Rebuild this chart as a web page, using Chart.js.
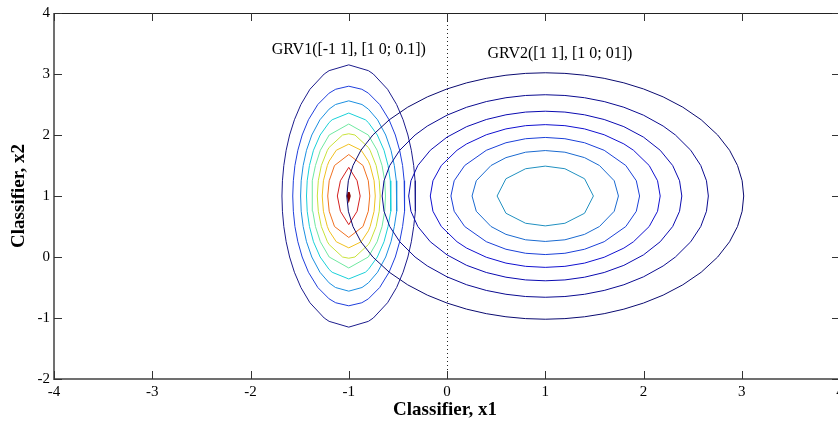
<!DOCTYPE html>
<html>
<head>
<meta charset="utf-8">
<script src="https://cdn.jsdelivr.net/npm/chart.js@4.4.1/dist/chart.umd.min.js"></script>
<style>
  html, body { margin: 0; padding: 0; background: #fff; overflow: hidden; }
  #wrap { width: 860px; height: 426px; }
</style>
</head>
<body>
<div id="wrap"><canvas id="contourChart" width="860" height="426"></canvas></div>
<script>
// Axis ranges and tick labels
const xTicks = [-4, -3, -2, -1, 0, 1, 2, 3, 4];
const yTicks = [-2, -1, 0, 1, 2, 3, 4];

// GRV1: centre and contour levels (narrow in x, tall in y)
const grv1Center = [-1, 1];
const grv1Levels = [0.05, 0.10, 0.15, 0.20, 0.25, 0.30, 0.35, 0.40, 0.45, 0.50];
const grv1Colors = ['#1c1c8c', '#1f3fdc', '#1a8fe0', '#19d0d8', '#6fe8a0',
                    '#c8e23a', '#f0c020', '#f07020', '#d42020', '#800000'];
// one quadrant of each contour, [dx, dy] from the top down to the side
const grv1Quads = [
    [[0, 2.15], [0.2, 2.055], [0.25, 2.0], [0.395, 1.75], [0.487, 1.5], [0.553, 1.25], [0.602, 1.0], [0.637, 0.75], [0.661, 0.5], [0.675, 0.25], [0.68, 0]],
    [[0, 1.8], [0.133, 1.75], [0.2, 1.686], [0.315, 1.5], [0.41, 1.25], [0.474, 1.0], [0.518, 0.75], [0.548, 0.5], [0.564, 0.25], [0.57, 0]],
    [[0, 1.56], [0.135, 1.5], [0.2, 1.424], [0.293, 1.25], [0.376, 1.0], [0.43, 0.75], [0.464, 0.5], [0.484, 0.25], [0.49, 0]],
    [[0, 1.36], [0.169, 1.25], [0.2, 1.204], [0.291, 1.0], [0.359, 0.75], [0.4, 0.5], [0.423, 0.25], [0.43, 0]],
    [[0, 1.18], [0.199, 1.0], [0.289, 0.75], [0.339, 0.5], [0.366, 0.25], [0.374, 0]],
    [[0, 1.02], [0.063, 1.0], [0.2, 0.796], [0.217, 0.75], [0.279, 0.5], [0.31, 0.25], [0.32, 0]],
    [[0, 0.85], [0.127, 0.75], [0.2, 0.571], [0.218, 0.5], [0.258, 0.25], [0.27, 0]],
    [[0, 0.68], [0.145, 0.5], [0.199, 0.25], [0.214, 0]],
    [[0, 0.47], [0.085, 0.25], [0.116, 0]],
    [[0, 0.06], [0.01, 0]]
];

// GRV2: centre and contour levels (round)
const grv2Center = [1, 1];
const grv2Levels = [0.02, 0.04, 0.06, 0.08, 0.10, 0.12, 0.14];
const grv2Colors = ['#0a0a70', '#0a0a90', '#0a0ab0', '#1010d0', '#1a40d8', '#1a6ad0', '#2090c0'];
const grv2Quads = [
    [[0, 2.02], [0.2, 2.01], [0.4, 1.98], [0.6, 1.929], [0.8, 1.855], [1.0, 1.755], [1.2, 1.625], [1.4, 1.456], [1.587, 1.25], [1.755, 1.0], [1.876, 0.75], [1.957, 0.5], [2.004, 0.25], [2.02, 0]],
    [[0, 1.66], [0.2, 1.648], [0.4, 1.611], [0.6, 1.548], [0.8, 1.455], [1.0, 1.325], [1.2, 1.147], [1.325, 1.0], [1.481, 0.75], [1.583, 0.5], [1.641, 0.25], [1.66, 0]],
    [[0, 1.39], [0.2, 1.376], [0.4, 1.331], [0.6, 1.254], [0.8, 1.137], [1.0, 0.965], [1.17, 0.75], [1.297, 0.5], [1.367, 0.25], [1.39, 0]],
    [[0, 1.17], [0.2, 1.153], [0.4, 1.1], [0.6, 1.004], [0.8, 0.854], [0.898, 0.75], [1.058, 0.5], [1.143, 0.25], [1.17, 0]],
    [[0, 0.96], [0.2, 0.939], [0.4, 0.873], [0.6, 0.749], [0.82, 0.5], [0.927, 0.25], [0.96, 0]],
    [[0, 0.745], [0.2, 0.718], [0.4, 0.629], [0.552, 0.5], [0.702, 0.25], [0.745, 0]],
    [[0, 0.49], [0.2, 0.447], [0.4, 0.283], [0.49, 0]]
];

const grv1Label = 'GRV1([-1 1], [1 0; 0.1])';
const grv2Label = 'GRV2([1 1], [1 0; 01])';

// mirror a quadrant into a closed loop around the centre
function closedLoop(center, quad) {
    const pts = [];
    const rev = quad.slice().reverse();
    quad.forEach(([dx, dy]) => pts.push({ x: center[0] + dx, y: center[1] + dy }));
    rev.forEach(([dx, dy]) => pts.push({ x: center[0] + dx, y: center[1] - dy }));
    quad.forEach(([dx, dy]) => pts.push({ x: center[0] - dx, y: center[1] - dy }));
    rev.forEach(([dx, dy]) => pts.push({ x: center[0] - dx, y: center[1] + dy }));
    return pts;
}

function contourDataset(label, pts, color) {
    return {
        label: label,
        data: pts,
        showLine: true,
        borderColor: color,
        borderWidth: 1,
        pointRadius: 0,
        tension: 0,
        fill: false
    };
}

const datasets = [];
grv2Levels.forEach((lvl, i) => {
    datasets.push(contourDataset('GRV2 ' + lvl, closedLoop(grv2Center, grv2Quads[i]), grv2Colors[i]));
});
grv1Levels.forEach((lvl, i) => {
    datasets.push(contourDataset('GRV1 ' + lvl, closedLoop(grv1Center, grv1Quads[i]), grv1Colors[i]));
});
datasets[datasets.length - 1].borderWidth = 2;

const serif = '"Liberation Serif", "Times New Roman", serif';

const framePlugin = {
    id: 'frame',
    beforeDatasetsDraw(chart) {
        const { ctx, chartArea: a, scales: { x } } = chart;
        const px = Math.round(x.getPixelForValue(0)) + 0.5;
        ctx.save();
        ctx.strokeStyle = '#222';
        ctx.lineWidth = 1;
        ctx.setLineDash([1, 3]);
        ctx.beginPath();
        ctx.moveTo(px, a.top);
        ctx.lineTo(px, a.bottom);
        ctx.stroke();
        ctx.restore();
    },
    afterDraw(chart) {
        const { ctx, chartArea: a, scales: { x, y } } = chart;
        ctx.save();
        // box
        ctx.strokeStyle = '#222';
        ctx.lineWidth = 1;
        ctx.beginPath();
        ctx.moveTo(a.left, a.top + 0.5);
        ctx.lineTo(a.right, a.top + 0.5);
        ctx.moveTo(a.right - 0.5, a.top);
        ctx.lineTo(a.right - 0.5, a.bottom);
        ctx.stroke();
        ctx.strokeStyle = '#707070';
        ctx.lineWidth = 2;
        ctx.beginPath();
        ctx.moveTo(a.left, a.top);
        ctx.lineTo(a.left, a.bottom);
        ctx.lineTo(a.right, a.bottom);
        ctx.stroke();

        // inward ticks
        ctx.strokeStyle = '#333';
        ctx.lineWidth = 1;
        ctx.beginPath();
        xTicks.forEach(v => {
            const px = Math.round(x.getPixelForValue(v)) + 0.5;
            ctx.moveTo(px, a.bottom);
            ctx.lineTo(px, a.bottom - 8);
            ctx.moveTo(px, a.top);
            ctx.lineTo(px, a.top + 8);
        });
        yTicks.forEach(v => {
            const py = Math.round(y.getPixelForValue(v)) + 0.5;
            ctx.moveTo(a.left, py);
            ctx.lineTo(a.left + 8, py);
            ctx.moveTo(a.right, py);
            ctx.lineTo(a.right - 8, py);
        });
        ctx.stroke();

        // annotations
        ctx.fillStyle = '#000';
        ctx.font = '16px ' + serif;
        ctx.textBaseline = 'middle';
        ctx.textAlign = 'center';
        ctx.fillText(grv1Label, x.getPixelForValue(-1), y.getPixelForValue(3.39));
        ctx.fillText(grv2Label, x.getPixelForValue(1.15), y.getPixelForValue(3.33));

        // axis titles
        ctx.font = 'bold 19px ' + serif;
        ctx.fillText('Classifier, x1', (a.left + a.right) / 2 - 2, 410);
        ctx.translate(19, (a.top + a.bottom) / 2);
        ctx.rotate(-Math.PI / 2);
        ctx.fillText('Classifier, x2', 0, 0);
        ctx.restore();
    }
};

new Chart(document.getElementById('contourChart').getContext('2d'), {
    type: 'scatter',
    data: { datasets: datasets },
    options: {
        responsive: false,
        animation: false,
        devicePixelRatio: 1,
        layout: { padding: { left: 0, right: 20, top: 12, bottom: 0 } },
        scales: {
            x: {
                type: 'linear',
                min: -4,
                max: 4,
                afterFit(scale) { scale.height = 47; },
                afterBuildTicks(scale) { scale.ticks = xTicks.map(v => ({ value: v })); },
                ticks: {
                    autoSkip: false,
                    maxRotation: 0,
                    padding: 4,
                    color: '#000',
                    font: { family: serif, size: 15 }
                },
                grid: { display: false, drawTicks: false },
                border: { display: false }
            },
            y: {
                type: 'linear',
                min: -2,
                max: 4,
                afterFit(scale) { scale.width = 54; },
                afterBuildTicks(scale) { scale.ticks = yTicks.map(v => ({ value: v })); },
                ticks: {
                    autoSkip: false,
                    padding: 4,
                    color: '#000',
                    font: { family: serif, size: 15 }
                },
                grid: { display: false, drawTicks: false },
                border: { display: false }
            }
        },
        plugins: {
            legend: { display: false },
            tooltip: { enabled: false }
        }
    },
    plugins: [framePlugin]
});
</script>
</body>
</html>
